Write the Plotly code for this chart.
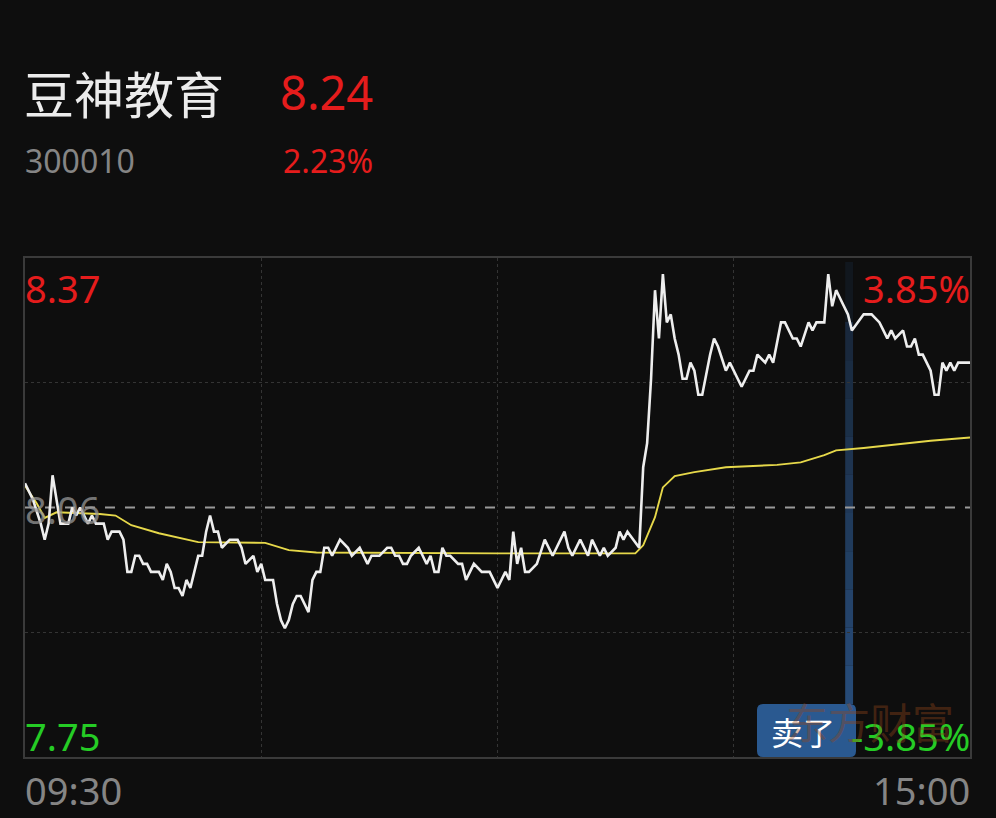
import plotly.graph_objects as go

# ---------------- data ----------------
stock_name = "豆神教育"
stock_code = "300010"
last_price = "8.24"
change_pct = "2.23%"
prev_close = 8.06
y_max, y_min = 8.37, 7.75
top_pct, bottom_pct = "3.85%", "-3.85%"
time_labels = ["09:30", "15:00"]

# minute index (0..240) and price of the intraday line
price_t = [0, 2, 4, 5, 6, 7, 8, 9, 11, 12, 13, 14, 16, 17, 18, 20, 21, 22, 24, 25,
           26, 27, 28, 29, 30, 31, 32, 34, 35, 36, 37, 38, 39, 40, 41, 42, 43, 44, 45, 46,
           47, 48, 49, 50, 52, 54, 55, 56, 58, 59, 60, 61, 63, 64, 65, 66, 67, 68, 69, 70,
           72, 73, 74, 75, 76, 77, 78, 79, 80, 82, 83, 85, 86, 87, 88, 90, 92, 93, 94, 95,
           96, 97, 98, 100, 101, 102, 103, 104, 105, 106, 107, 108, 110, 111, 112, 114, 116, 118, 119, 120,
           122, 123, 124, 125, 126, 127, 128, 130, 132, 134, 135, 137, 138, 139, 141, 143, 144, 146, 147, 148,
           150, 151, 152, 153, 156, 157, 158, 159, 160, 161, 162, 163, 164, 165, 166, 167, 168, 169, 170, 171,
           172, 174, 175, 176, 178, 179, 181, 182, 184, 185, 186, 188, 189, 190, 192, 193, 195, 196, 197, 199,
           200, 201, 203, 204, 205, 206, 207, 209, 210, 213, 215, 217, 218, 219, 220, 221, 223, 224, 225, 226,
           227, 228, 230, 231, 232, 233, 234, 235, 236, 237, 240]
price_v = [8.09, 8.07, 8.04, 8.02, 8.04, 8.10, 8.07, 8.04, 8.04, 8.06, 8.05, 8.06, 8.04, 8.05, 8.04, 8.04, 8.02, 8.03, 8.03, 8.02,
           7.98, 7.98, 8.00, 8.00, 7.99, 7.99, 7.98, 7.98, 7.97, 7.99, 7.98, 7.96, 7.96, 7.95, 7.97, 7.96, 7.98, 8.00, 8.00, 8.03,
           8.05, 8.03, 8.03, 8.01, 8.02, 8.02, 8.01, 7.99, 8.00, 7.98, 7.99, 7.97, 7.97, 7.94, 7.92, 7.91, 7.92, 7.94, 7.95, 7.95,
           7.93, 7.97, 7.98, 7.98, 8.01, 8.01, 8.00, 8.01, 8.02, 8.01, 8.00, 8.01, 8.00, 7.99, 8.00, 8.00, 8.01, 8.01, 8.00, 8.00,
           7.99, 7.99, 8.00, 8.01, 8.00, 7.99, 8.00, 7.98, 7.98, 8.01, 8.00, 8.00, 7.99, 7.99, 7.97, 7.99, 7.98, 7.98, 7.97, 7.96,
           7.98, 7.97, 8.03, 7.99, 8.01, 7.98, 7.98, 7.99, 8.02, 8.00, 8.01, 8.03, 8.01, 8.00, 8.02, 8.00, 8.02, 8.00, 8.01, 8.00,
           8.01, 8.03, 8.02, 8.03, 8.01, 8.11, 8.14, 8.22, 8.33, 8.27, 8.35, 8.29, 8.30, 8.27, 8.25, 8.22, 8.22, 8.24, 8.23, 8.20,
           8.20, 8.25, 8.27, 8.26, 8.23, 8.24, 8.22, 8.21, 8.23, 8.23, 8.25, 8.24, 8.25, 8.24, 8.29, 8.29, 8.27, 8.27, 8.26, 8.29,
           8.28, 8.29, 8.29, 8.35, 8.31, 8.33, 8.32, 8.30, 8.28, 8.30, 8.30, 8.29, 8.28, 8.27, 8.28, 8.27, 8.28, 8.26, 8.26, 8.27,
           8.25, 8.25, 8.23, 8.20, 8.20, 8.24, 8.23, 8.24, 8.23, 8.24, 8.24]

# average-price line (minute index, value)
avg_t = [0, 3, 5, 8, 19, 23, 27, 34, 44, 61, 67, 74, 120, 155, 157, 160, 162, 165, 170, 178, 191, 197, 203, 206, 213, 230, 240]
avg_v = [8.087, 8.065, 8.047, 8.054, 8.052, 8.050, 8.038, 8.028, 8.017, 8.016, 8.007, 8.004, 8.003, 8.003, 8.013, 8.048,
         8.085, 8.099, 8.104, 8.110, 8.113, 8.116, 8.125, 8.131, 8.134, 8.143, 8.147]

sell_label = "卖了"
sell_t = 209.3
watermark = "东方财富"

# ---------------- styling ----------------
BG = "#0e0e0e"
RED = "#e51c1c"
GREEN = "#25cc25"
GRAY = "#858585"
FONT = "Noto Sans, Noto Sans CJK SC, sans-serif"
CJK = "Noto Sans CJK SC, sans-serif"

W, H = 996, 818
L, R, T, B = 25, 26, 258, 61
PW, PH = W - L - R, H - T - B


def py(ypix):  # pixel y -> paper y
    return (H - B - ypix) / PH


def px(xpix):  # pixel x -> paper x
    return (xpix - L) / PW


fig = go.Figure()

fig.add_trace(go.Scatter(x=avg_t, y=avg_v, mode="lines",
                         line=dict(color="#e6d84a", width=1.9), hoverinfo="skip"))
fig.add_trace(go.Scatter(x=price_t, y=price_v, mode="lines",
                         line=dict(color="#eeeeee", width=2.6), hoverinfo="skip"))

shapes = []
# sell band with gradient
n = 10
band_top = py(322)
band_bot = py(704)
for k in range(n):
    y0 = band_bot + (band_top - band_bot) * k / n
    y1 = band_bot + (band_top - band_bot) * (k + 1) / n
    alpha = 0.8 - 0.5 * k / n
    shapes.append(dict(type="rect", xref="x", yref="paper", x0=sell_t - 1.0, x1=sell_t + 1.0,
                       y0=y0, y1=y1, fillcolor=f"rgba(45,90,145,{alpha:.3f})", line=dict(width=0), layer="below"))
shapes.append(dict(type="rect", xref="x", yref="paper", x0=sell_t - 1.0, x1=sell_t + 1.0,
                   y0=band_top, y1=py(262), fillcolor="rgba(45,90,145,0.12)", line=dict(width=0), layer="below"))
# previous close dashed line
shapes.append(dict(type="line", xref="paper", yref="y", x0=0, x1=1, y0=prev_close, y1=prev_close,
                   line=dict(color="#9a9a9a", width=2, dash="10px,10px"), layer="below"))
# sell button (rounded rect)
bx0, bx1, by0, by1, r = px(757), px(856), py(757), py(704), 6
rx, ry = r / PW, r / PH
path = (f"M {bx0+rx},{by0} L {bx1-rx},{by0} Q {bx1},{by0} {bx1},{by0+ry} "
        f"L {bx1},{by1-ry} Q {bx1},{by1} {bx1-rx},{by1} L {bx0+rx},{by1} "
        f"Q {bx0},{by1} {bx0},{by1-ry} L {bx0},{by0+ry} Q {bx0},{by0} {bx0+rx},{by0} Z")
shapes.append(dict(type="path", xref="paper", yref="paper", path=path,
                   fillcolor="rgba(44,94,152,0.95)", line=dict(width=0), layer="above"))

ann = []


def text(t, x, y, size, color, xanchor="left", family=FONT):
    ann.append(dict(text=t, x=x, y=y, xref="paper", yref="paper", showarrow=False,
                    xanchor=xanchor, yanchor="middle", font=dict(size=size, color=color, family=family)))


text(stock_name, px(22), py(92), 50, "#ececec", family=CJK)
text(last_price, px(375), py(92), 47, RED, xanchor="right")
text(stock_code, px(23), py(161), 32, GRAY)
text(change_pct, px(375), py(161), 32, RED, xanchor="right")
text(f"{y_max:.2f}", px(23), py(288), 38, RED)
text(top_pct, px(972), py(288), 38, RED, xanchor="right")
text(f"{y_min:.2f}", px(23), py(736), 38, GREEN)
text(f"{prev_close:.2f}", px(23), py(509), 38, "rgba(150,150,150,0.75)")
text(time_labels[0], px(23), py(790), 38, GRAY)
text(time_labels[1], px(972), py(790), 38, GRAY, xanchor="right")
text(sell_label, px(803), py(731), 32, "#ffffff", xanchor="center", family=CJK)
text(bottom_pct, px(972), py(736), 38, GREEN, xanchor="right")
text(watermark, px(870), py(720), 42, "rgba(150,70,25,0.40)", xanchor="center", family=CJK)

fig.update_layout(
    width=W, height=H, paper_bgcolor=BG, plot_bgcolor=BG,
    margin=dict(l=L, r=R, t=T, b=B), showlegend=False, hovermode=False,
    shapes=shapes, annotations=ann,
    xaxis=dict(range=[0, 240], tickvals=[60, 120, 180], showticklabels=False, ticks="",
               showgrid=True, gridcolor="#343434", griddash="dot", gridwidth=1,
               zeroline=False, showline=True, linecolor="#3a3a3a", linewidth=1.5, mirror=True),
    yaxis=dict(range=[y_min, y_max], tickvals=[7.905, 8.215], showticklabels=False, ticks="",
               showgrid=True, gridcolor="#343434", griddash="dot", gridwidth=1,
               zeroline=False, showline=True, linecolor="#3a3a3a", linewidth=1.5, mirror=True),
)

fig.write_html(
    "out.html",
    config={"displayModeBar": False},
    post_script="document.body.style.margin='0';document.body.style.padding='0';"
                "document.body.style.background='#0e0e0e';document.body.style.overflow='hidden';",
)
